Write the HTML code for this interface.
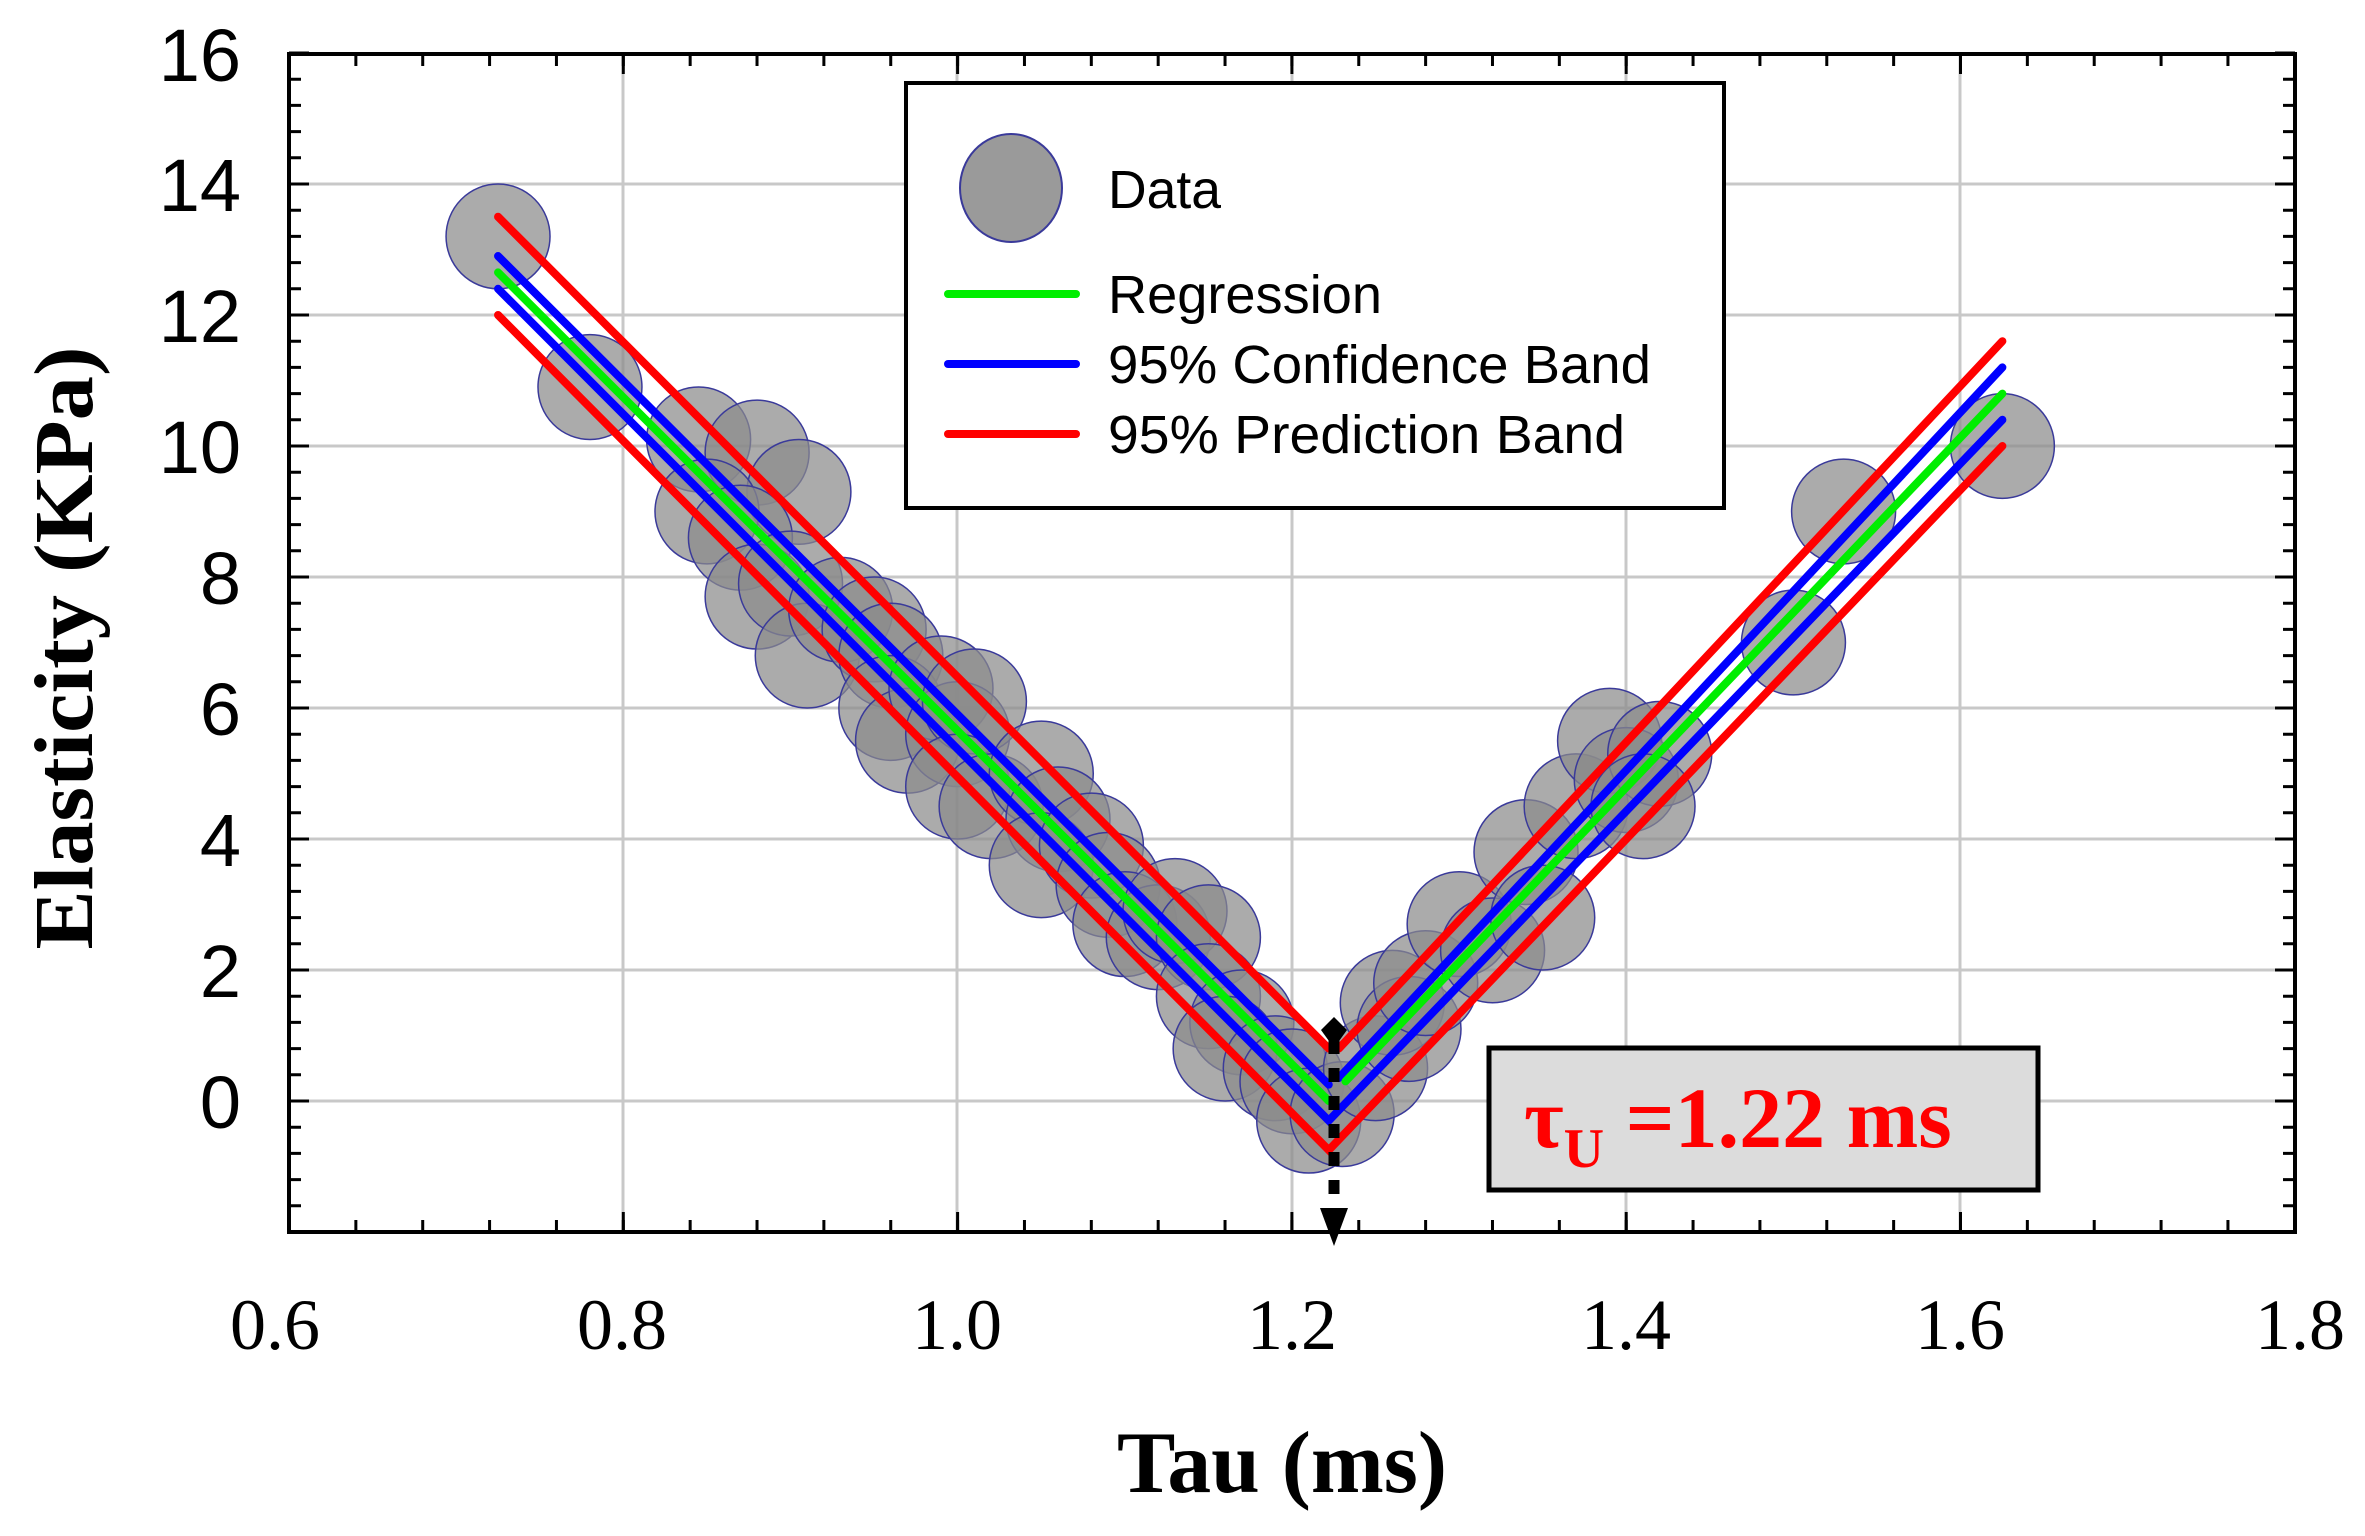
<!DOCTYPE html>
<html><head><meta charset="utf-8"><style>
html,body{margin:0;padding:0;background:#fff;}
svg{display:block;}
</style></head><body>
<svg width="2365" height="1536" viewBox="0 0 2365 1536" xmlns="http://www.w3.org/2000/svg">
<rect width="2365" height="1536" fill="#fff"/>
<g stroke="#c8c8c8" stroke-width="3">
<line x1="623" y1="54" x2="623" y2="1232"/><line x1="957" y1="54" x2="957" y2="1232"/><line x1="1292" y1="54" x2="1292" y2="1232"/><line x1="1626" y1="54" x2="1626" y2="1232"/><line x1="1960" y1="54" x2="1960" y2="1232"/>
<line x1="289" y1="1101" x2="2295" y2="1101"/><line x1="289" y1="970" x2="2295" y2="970"/><line x1="289" y1="839" x2="2295" y2="839"/><line x1="289" y1="708" x2="2295" y2="708"/><line x1="289" y1="577" x2="2295" y2="577"/><line x1="289" y1="446" x2="2295" y2="446"/><line x1="289" y1="315" x2="2295" y2="315"/><line x1="289" y1="184" x2="2295" y2="184"/>
</g>
<g stroke="#000">
<line x1="287.5" y1="1226" x2="2297" y2="1226" stroke-width="12" stroke-dasharray="3 63.86"/>
<line x1="287.5" y1="1222" x2="2297" y2="1222" stroke-width="20" stroke-dasharray="3 331.3"/>
<line x1="287.5" y1="60" x2="2297" y2="60" stroke-width="12" stroke-dasharray="3 63.86"/>
<line x1="287.5" y1="64" x2="2297" y2="64" stroke-width="20" stroke-dasharray="3 331.3"/>
<line x1="295" y1="1233.5" x2="295" y2="50" stroke-width="12" stroke-dasharray="3 23.2"/>
<line x1="299" y1="1233.5" x2="299" y2="50" stroke-width="20" stroke-dasharray="3 128"/>
<line x1="2289" y1="1233.5" x2="2289" y2="50" stroke-width="12" stroke-dasharray="3 23.2"/>
<line x1="2285" y1="1233.5" x2="2285" y2="50" stroke-width="20" stroke-dasharray="3 128"/>
</g>
<g transform="matrix(1671.5,0,0,-65.5,-713.8,1101)">
<g fill="#8a8a8a" fill-opacity="0.72" stroke="#3a3a9a" stroke-width="1.5">
<ellipse rx="0.0311" ry="0.80" cx="0.725" cy="13.2" vector-effect="non-scaling-stroke"/>
<ellipse rx="0.0311" ry="0.80" cx="0.78" cy="10.9" vector-effect="non-scaling-stroke"/>
<ellipse rx="0.0311" ry="0.80" cx="0.845" cy="10.1" vector-effect="non-scaling-stroke"/>
<ellipse rx="0.0311" ry="0.80" cx="0.88" cy="9.9" vector-effect="non-scaling-stroke"/>
<ellipse rx="0.0311" ry="0.80" cx="0.905" cy="9.3" vector-effect="non-scaling-stroke"/>
<ellipse rx="0.0311" ry="0.80" cx="0.85" cy="9.0" vector-effect="non-scaling-stroke"/>
<ellipse rx="0.0311" ry="0.80" cx="0.87" cy="8.6" vector-effect="non-scaling-stroke"/>
<ellipse rx="0.0311" ry="0.80" cx="0.88" cy="7.7" vector-effect="non-scaling-stroke"/>
<ellipse rx="0.0311" ry="0.80" cx="0.9" cy="7.9" vector-effect="non-scaling-stroke"/>
<ellipse rx="0.0311" ry="0.80" cx="0.91" cy="6.8" vector-effect="non-scaling-stroke"/>
<ellipse rx="0.0311" ry="0.80" cx="0.93" cy="7.5" vector-effect="non-scaling-stroke"/>
<ellipse rx="0.0311" ry="0.80" cx="0.95" cy="7.2" vector-effect="non-scaling-stroke"/>
<ellipse rx="0.0311" ry="0.80" cx="0.96" cy="6.8" vector-effect="non-scaling-stroke"/>
<ellipse rx="0.0311" ry="0.80" cx="0.96" cy="6.0" vector-effect="non-scaling-stroke"/>
<ellipse rx="0.0311" ry="0.80" cx="0.97" cy="5.5" vector-effect="non-scaling-stroke"/>
<ellipse rx="0.0311" ry="0.80" cx="0.99" cy="6.3" vector-effect="non-scaling-stroke"/>
<ellipse rx="0.0311" ry="0.80" cx="1.0" cy="5.6" vector-effect="non-scaling-stroke"/>
<ellipse rx="0.0311" ry="0.80" cx="1.01" cy="6.1" vector-effect="non-scaling-stroke"/>
<ellipse rx="0.0311" ry="0.80" cx="1.0" cy="4.8" vector-effect="non-scaling-stroke"/>
<ellipse rx="0.0311" ry="0.80" cx="1.02" cy="4.5" vector-effect="non-scaling-stroke"/>
<ellipse rx="0.0311" ry="0.80" cx="1.05" cy="5.0" vector-effect="non-scaling-stroke"/>
<ellipse rx="0.0311" ry="0.80" cx="1.06" cy="4.3" vector-effect="non-scaling-stroke"/>
<ellipse rx="0.0311" ry="0.80" cx="1.05" cy="3.6" vector-effect="non-scaling-stroke"/>
<ellipse rx="0.0311" ry="0.80" cx="1.08" cy="3.9" vector-effect="non-scaling-stroke"/>
<ellipse rx="0.0311" ry="0.80" cx="1.09" cy="3.3" vector-effect="non-scaling-stroke"/>
<ellipse rx="0.0311" ry="0.80" cx="1.1" cy="2.7" vector-effect="non-scaling-stroke"/>
<ellipse rx="0.0311" ry="0.80" cx="1.12" cy="2.5" vector-effect="non-scaling-stroke"/>
<ellipse rx="0.0311" ry="0.80" cx="1.13" cy="2.9" vector-effect="non-scaling-stroke"/>
<ellipse rx="0.0311" ry="0.80" cx="1.15" cy="2.5" vector-effect="non-scaling-stroke"/>
<ellipse rx="0.0311" ry="0.80" cx="1.15" cy="1.6" vector-effect="non-scaling-stroke"/>
<ellipse rx="0.0311" ry="0.80" cx="1.17" cy="1.2" vector-effect="non-scaling-stroke"/>
<ellipse rx="0.0311" ry="0.80" cx="1.16" cy="0.8" vector-effect="non-scaling-stroke"/>
<ellipse rx="0.0311" ry="0.80" cx="1.19" cy="0.5" vector-effect="non-scaling-stroke"/>
<ellipse rx="0.0311" ry="0.80" cx="1.2" cy="0.3" vector-effect="non-scaling-stroke"/>
<ellipse rx="0.0311" ry="0.80" cx="1.21" cy="-0.3" vector-effect="non-scaling-stroke"/>
<ellipse rx="0.0311" ry="0.80" cx="1.23" cy="-0.2" vector-effect="non-scaling-stroke"/>
<ellipse rx="0.0311" ry="0.80" cx="1.25" cy="0.5" vector-effect="non-scaling-stroke"/>
<ellipse rx="0.0311" ry="0.80" cx="1.26" cy="1.5" vector-effect="non-scaling-stroke"/>
<ellipse rx="0.0311" ry="0.80" cx="1.27" cy="1.1" vector-effect="non-scaling-stroke"/>
<ellipse rx="0.0311" ry="0.80" cx="1.28" cy="1.8" vector-effect="non-scaling-stroke"/>
<ellipse rx="0.0311" ry="0.80" cx="1.3" cy="2.7" vector-effect="non-scaling-stroke"/>
<ellipse rx="0.0311" ry="0.80" cx="1.32" cy="2.3" vector-effect="non-scaling-stroke"/>
<ellipse rx="0.0311" ry="0.80" cx="1.34" cy="3.8" vector-effect="non-scaling-stroke"/>
<ellipse rx="0.0311" ry="0.80" cx="1.35" cy="2.8" vector-effect="non-scaling-stroke"/>
<ellipse rx="0.0311" ry="0.80" cx="1.37" cy="4.5" vector-effect="non-scaling-stroke"/>
<ellipse rx="0.0311" ry="0.80" cx="1.39" cy="5.5" vector-effect="non-scaling-stroke"/>
<ellipse rx="0.0311" ry="0.80" cx="1.4" cy="4.9" vector-effect="non-scaling-stroke"/>
<ellipse rx="0.0311" ry="0.80" cx="1.42" cy="5.3" vector-effect="non-scaling-stroke"/>
<ellipse rx="0.0311" ry="0.80" cx="1.41" cy="4.5" vector-effect="non-scaling-stroke"/>
<ellipse rx="0.0311" ry="0.80" cx="1.5" cy="7.0" vector-effect="non-scaling-stroke"/>
<ellipse rx="0.0311" ry="0.80" cx="1.53" cy="9.0" vector-effect="non-scaling-stroke"/>
<ellipse rx="0.0311" ry="0.80" cx="1.625" cy="10.0" vector-effect="non-scaling-stroke"/>
</g>
<g fill="none" stroke-width="8" stroke-linecap="round">
<polyline points="0.725,13.5 1.222,0.8" stroke="#ff0000" vector-effect="non-scaling-stroke"/>
<polyline points="0.725,12.0 1.222,-0.75 1.625,10.0" stroke="#ff0000" vector-effect="non-scaling-stroke"/>
<polyline points="1.228,0.8 1.625,11.6" stroke="#ff0000" vector-effect="non-scaling-stroke"/>
<polyline points="0.725,12.9 1.222,0.25" stroke="#0000ff" vector-effect="non-scaling-stroke"/>
<polyline points="0.725,12.4 1.222,-0.3 1.625,10.4" stroke="#0000ff" vector-effect="non-scaling-stroke"/>
<polyline points="1.228,0.35 1.625,11.2" stroke="#0000ff" vector-effect="non-scaling-stroke"/>
<polyline points="0.725,12.65 1.222,0.0" stroke="#00ee00" vector-effect="non-scaling-stroke"/>
<polyline points="1.232,0.3 1.625,10.8" stroke="#00ee00" vector-effect="non-scaling-stroke"/>
</g>
</g>
<line x1="1334" y1="1040" x2="1334" y2="1220" stroke="#000" stroke-width="11" stroke-dasharray="14 14"/>
<polygon points="1320,1208 1348,1208 1334,1246" fill="#000"/>
<polygon points="1334,1017 1347,1030 1334,1048 1321,1030" fill="#000"/>
<rect x="289" y="54" width="2006" height="1178" fill="none" stroke="#000" stroke-width="4"/>
<rect x="906" y="83" width="818" height="425" fill="#fff" stroke="#000" stroke-width="4"/>
<ellipse cx="1011" cy="188" rx="51" ry="54" fill="#9a9a9a" stroke="#3a3a9a" stroke-width="2"/>
<g stroke-width="8" stroke-linecap="round">
<line x1="948" y1="294" x2="1076" y2="294" stroke="#00ee00"/>
<line x1="948" y1="364" x2="1076" y2="364" stroke="#0000ff"/>
<line x1="948" y1="434" x2="1076" y2="434" stroke="#ff0000"/>
</g>
<g font-family="Liberation Sans, Arial, sans-serif" font-size="54" fill="#000" lengthAdjust="spacingAndGlyphs">
<text x="1108" y="208" textLength="113" lengthAdjust="spacingAndGlyphs">Data</text>
<text x="1108" y="313" textLength="274" lengthAdjust="spacingAndGlyphs">Regression</text>
<text x="1108" y="383" textLength="543" lengthAdjust="spacingAndGlyphs">95% Confidence Band</text>
<text x="1108" y="453" textLength="517" lengthAdjust="spacingAndGlyphs">95% Prediction Band</text>
</g>
<rect x="1489" y="1048" width="549" height="142" fill="#dcdcdc" stroke="#000" stroke-width="5"/>
<text x="1524" y="1147" font-family="Liberation Serif, serif" font-weight="bold" font-size="86" fill="#ff0000">τ<tspan font-size="56" dy="20">U</tspan><tspan dy="-20"> =1.22 ms</tspan></text>
<g font-family="Liberation Sans, Arial, sans-serif" font-size="74" fill="#000" text-anchor="end">
<text x="241" y="81">16</text>
<text x="241" y="211">14</text>
<text x="241" y="342">12</text>
<text x="241" y="473">10</text>
<text x="241" y="604">8</text>
<text x="241" y="735">6</text>
<text x="241" y="866">4</text>
<text x="241" y="997">2</text>
<text x="241" y="1128">0</text>
</g>
<g font-family="Liberation Serif, serif" font-size="72" fill="#000" text-anchor="middle">
<text x="275" y="1349">0.6</text>
<text x="622" y="1349">0.8</text>
<text x="957" y="1349">1.0</text>
<text x="1292" y="1349">1.2</text>
<text x="1626" y="1349">1.4</text>
<text x="1960" y="1349">1.6</text>
<text x="2300" y="1349">1.8</text>
</g>
<text x="1282" y="1492" font-family="Liberation Serif, serif" font-weight="bold" font-size="88" text-anchor="middle" textLength="330" lengthAdjust="spacingAndGlyphs">Tau (ms)</text>
<text transform="translate(92,648) rotate(-90)" font-family="Liberation Serif, serif" font-weight="bold" font-size="84" text-anchor="middle" textLength="603" lengthAdjust="spacingAndGlyphs">Elasticity (KPa)</text>
</svg>
</body></html>
